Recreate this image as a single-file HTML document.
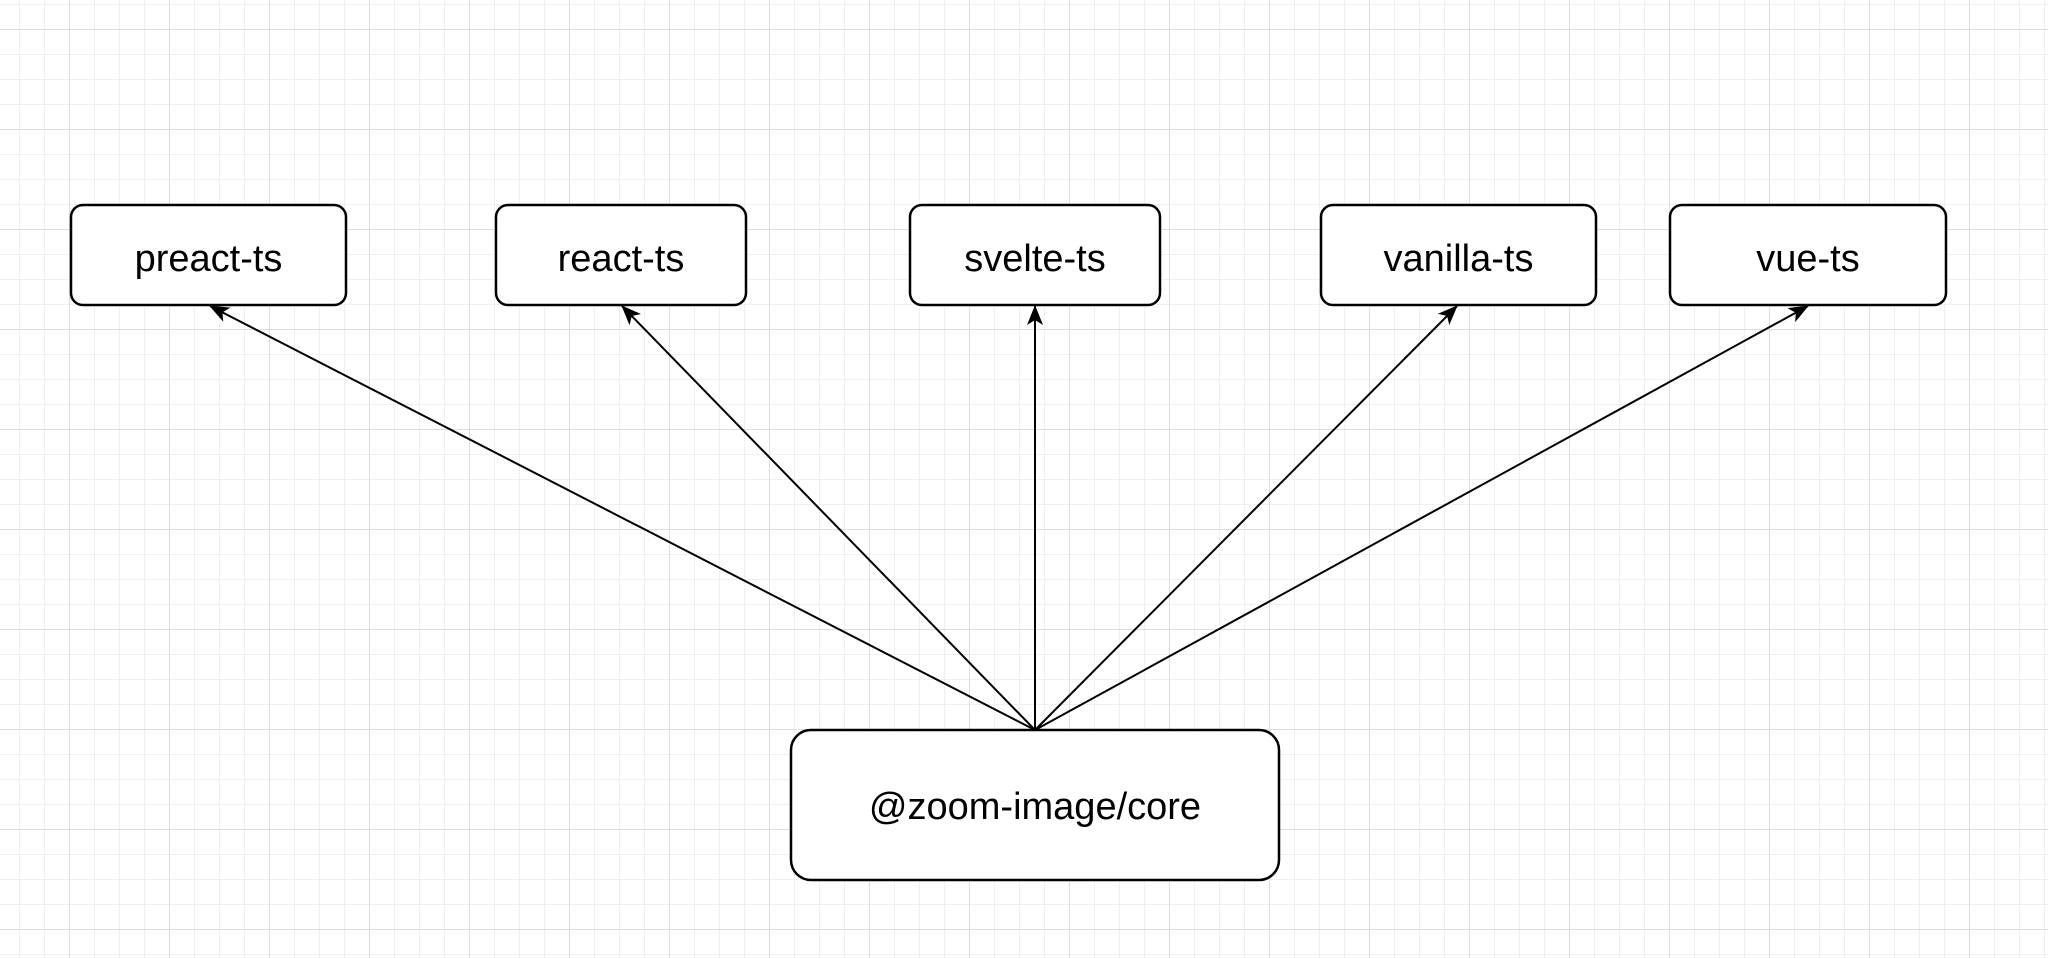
<!DOCTYPE html>
<html><head><meta charset="utf-8"><style>
html,body{margin:0;padding:0;background:#fff;}
svg{display:block;}
text{font-family:"Liberation Sans",Arial,sans-serif;fill:#000;}
</style></head><body>
<svg width="2048" height="958" viewBox="0 0 2048 958" xmlns="http://www.w3.org/2000/svg">
<defs>
<pattern id="minor" x="19" y="4" width="25" height="25" patternUnits="userSpaceOnUse">
<path d="M0 0V25M0 0H25" stroke="#ebebeb" stroke-width="1.5" fill="none"/>
</pattern>
<pattern id="major" x="69" y="29" width="100" height="100" patternUnits="userSpaceOnUse">
<path d="M0 0V100M0 0H100" stroke="#d6d6d6" stroke-width="1.5" fill="none"/>
</pattern>
<marker id="arr" viewBox="0 0 20 16" refX="19" refY="8" markerWidth="20" markerHeight="16" markerUnits="userSpaceOnUse" orient="auto">
<path d="M0 0L20 8L0 16L5 8Z" fill="#000"/>
</marker>
</defs>
<rect width="2048" height="958" fill="#fff"/>
<rect width="2048" height="958" fill="url(#minor)"/>
<rect width="2048" height="958" fill="url(#major)"/>
<g stroke="#000" stroke-width="2" fill="none" marker-end="url(#arr)">
<line x1="1035" y1="730" x2="210" y2="306"/>
<line x1="1035" y1="730" x2="622" y2="306"/>
<line x1="1035" y1="730" x2="1035" y2="306"/>
<line x1="1035" y1="730" x2="1457" y2="306"/>
<line x1="1035" y1="730" x2="1808" y2="306"/>
</g>
<g fill="#fff" stroke="#000" stroke-width="2.5">
<rect x="71" y="205" width="275" height="100" rx="12"/>
<rect x="496" y="205" width="250" height="100" rx="12"/>
<rect x="910" y="205" width="250" height="100" rx="12"/>
<rect x="1321" y="205" width="275" height="100" rx="12"/>
<rect x="1670" y="205" width="276" height="100" rx="12"/>
<rect x="791" y="730" width="488" height="150" rx="20"/>
</g>
<g font-size="38" text-anchor="middle">
<text x="208.5" y="271">preact-ts</text>
<text x="621" y="271">react-ts</text>
<text x="1035" y="271">svelte-ts</text>
<text x="1458.5" y="271">vanilla-ts</text>
<text x="1808" y="271">vue-ts</text>
<text x="1035" y="819">@zoom-image/core</text>
</g>
</svg>
</body></html>
